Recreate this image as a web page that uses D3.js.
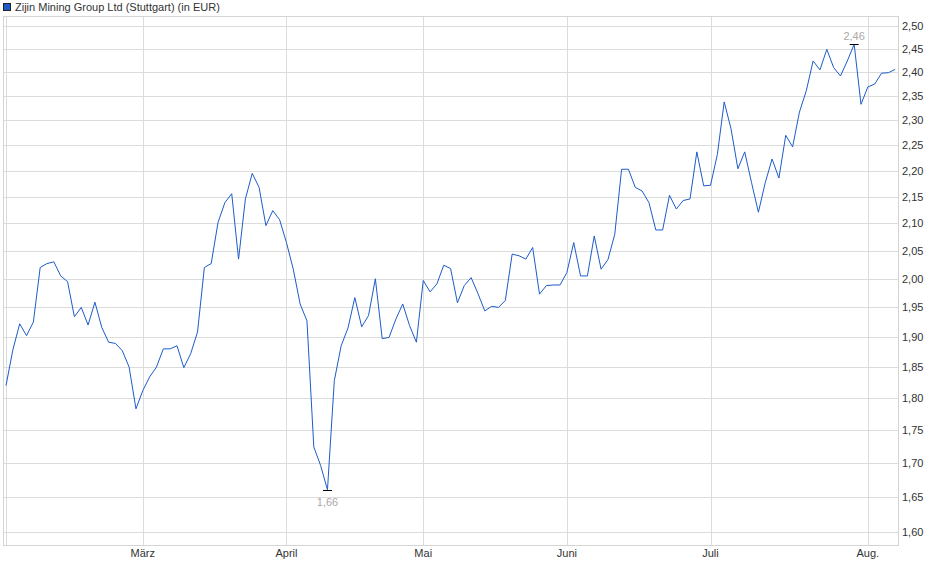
<!DOCTYPE html>
<html>
<head>
<meta charset="utf-8">
<script src="https://cdn.jsdelivr.net/npm/d3@7/dist/d3.min.js"></script>
<style>
  html, body { margin: 0; padding: 0; background: #fff; }
  svg { display: block; font-family: "Liberation Sans", Arial, sans-serif; }
</style>
</head>
<body>
<svg id="chart" width="940" height="579"></svg>
<script>
// ---- data ----
const title = "Zijin Mining Group Ltd (Stuttgart) (in EUR)";
const startDate = "2025-02-03";
const endDate = "2025-08-07";
const holidays = ["2025-04-18", "2025-04-21", "2025-05-01"];
const monthNames = ["Jan.", "Feb.", "März", "April", "Mai", "Juni", "Juli", "Aug."];
const yTicks = [1.60, 1.65, 1.70, 1.75, 1.80, 1.85, 1.90, 1.95, 2.00, 2.05, 2.10, 2.15, 2.20, 2.25, 2.30, 2.35, 2.40, 2.45, 2.50];
const prices = [
  1.820, 1.878, 1.922, 1.902, 1.925, 2.020, 2.027, 2.030, 2.005, 1.995,
  1.934, 1.950, 1.920, 1.959, 1.916, 1.891, 1.889, 1.877, 1.850, 1.783,
  1.812, 1.834, 1.850, 1.880, 1.880, 1.885, 1.849, 1.872, 1.908, 2.020,
  2.027, 2.102, 2.139, 2.156, 2.035, 2.146, 2.195, 2.168, 2.096, 2.124,
  2.107, 2.065, 2.017, 1.956, 1.927, 1.724, 1.696, 1.660, 1.828, 1.885,
  1.915, 1.967, 1.917, 1.936, 2.000, 1.897, 1.899, 1.930, 1.956, 1.919,
  1.891, 1.997, 1.977, 1.991, 2.024, 2.018, 1.958, 1.988, 2.002, 1.974,
  1.944, 1.952, 1.950, 1.962, 2.044, 2.041, 2.035, 2.056, 1.973, 1.988,
  1.989, 1.989, 2.011, 2.065, 2.005, 2.005, 2.077, 2.017, 2.034, 2.080,
  2.203, 2.203, 2.168, 2.161, 2.139, 2.088, 2.088, 2.153, 2.127, 2.143,
  2.146, 2.237, 2.171, 2.172, 2.232, 2.338, 2.283, 2.204, 2.237, 2.177,
  2.121, 2.177, 2.223, 2.186, 2.270, 2.247, 2.317, 2.361, 2.424, 2.405,
  2.449, 2.410, 2.392, 2.424, 2.460, 2.333, 2.369, 2.375, 2.398, 2.399,
  2.406
];

// ---- trading days ----
const fmt = d3.utcFormat("%Y-%m-%d");
const dates = d3.utcDay.range(new Date(startDate + "T00:00:00Z"), d3.utcDay.offset(new Date(endDate + "T00:00:00Z"), 1))
  .filter(d => d.getUTCDay() !== 0 && d.getUTCDay() !== 6 && !holidays.includes(fmt(d)))
  .map(fmt);
const data = dates.map((d, i) => ({ date: d, value: prices[i] }));

// ---- layout ----
const box = { left: 3, right: 898, top: 16, bottom: 545 };
const svg = d3.select("#chart");

const x = d3.scalePoint().domain(dates).range([6, 895.2]);
const y = d3.scaleLog().domain([1.60, 2.50]).range([531.5, 26]);

const monthStarts = dates.filter((d, i) => i === 0 || d.slice(0, 7) !== dates[i - 1].slice(0, 7));

const grid = svg.append("g");
// horizontal gridlines
grid.selectAll("line.h").data(yTicks).join("line")
  .attr("x1", box.left).attr("x2", box.right)
  .attr("y1", d => Math.round(y(d)) + 0.5).attr("y2", d => Math.round(y(d)) + 0.5)
  .attr("stroke", "#dcdcdc").attr("stroke-width", 1);
// vertical gridlines
grid.selectAll("line.v").data(monthStarts).join("line")
  .attr("x1", d => Math.round(x(d)) + 0.5).attr("x2", d => Math.round(x(d)) + 0.5)
  .attr("y1", box.top).attr("y2", box.bottom)
  .attr("stroke", "#dcdcdc").attr("stroke-width", 1);
// box
svg.append("rect")
  .attr("x", box.left + 0.5).attr("y", box.top + 0.5)
  .attr("width", box.right - box.left).attr("height", box.bottom - box.top)
  .attr("fill", "none").attr("stroke", "#d4d4d4").attr("stroke-width", 1);

// x axis labels
svg.append("g").selectAll("text").data(monthStarts.filter((d, i) => i > 0)).join("text")
  .attr("x", d => x(d))
  .attr("y", 557)
  .attr("text-anchor", "middle")
  .attr("font-size", 11)
  .attr("fill", "#333")
  .text(d => monthNames[+d.slice(5, 7) - 1]);

// y axis labels
const fmtY = v => d3.format(".2f")(v).replace(".", ",");
svg.append("g").selectAll("text").data(yTicks).join("text")
  .attr("x", 902)
  .attr("y", d => y(d) + 4)
  .attr("font-size", 11)
  .attr("fill", "#333")
  .text(fmtY);

// line
const line = d3.line().x(d => x(d.date)).y(d => y(d.value));
svg.append("path").datum(data)
  .attr("d", line)
  .attr("fill", "none")
  .attr("stroke", "#1d5cc8")
  .attr("stroke-width", 1)
  .attr("stroke-linejoin", "round");

// min / max markers
const maxD = data.reduce((a, b) => (b.value > a.value ? b : a));
const minD = data.reduce((a, b) => (b.value < a.value ? b : a));
const markers = svg.append("g");
[maxD, minD].forEach((d, k) => {
  const px = x(d.date), py = Math.round(y(d.value)) + 0.5;
  markers.append("line")
    .attr("x1", px - 4.5).attr("x2", px + 4.5)
    .attr("y1", py).attr("y2", py)
    .attr("stroke", "#000").attr("stroke-width", 1);
  markers.append("text")
    .attr("x", px)
    .attr("y", k === 0 ? py - 5 : py + 15)
    .attr("text-anchor", "middle")
    .attr("font-size", 11)
    .attr("fill", "#a9a9a9")
    .text(fmtY(d.value));
});

// legend
svg.append("rect")
  .attr("x", 3.5).attr("y", 3.5).attr("width", 7).attr("height", 7)
  .attr("fill", "#1d5cc8").attr("stroke", "#222").attr("stroke-width", 1);
svg.append("text")
  .attr("x", 15).attr("y", 11)
  .attr("font-size", 11)
  .attr("fill", "#333")
  .text(title);
</script>
</body>
</html>
